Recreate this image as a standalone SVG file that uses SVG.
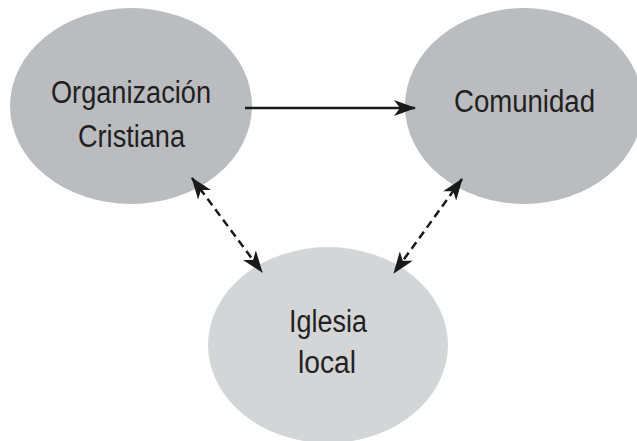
<svg xmlns="http://www.w3.org/2000/svg" width="637" height="441" viewBox="0 0 637 441">
  <style>
    .lbl { font-family: "Liberation Sans", Arial, sans-serif; font-size: 31px; fill: #231f20; text-anchor: middle; }
    .n1 { fill: #bbbcbf; }
    .n2 { fill: #d4d5d7; }
    .conn { stroke: #1a1a1a; stroke-width: 2.5; fill: none; }
    .dash { stroke-dasharray: 8 5; }
  </style>
  <defs>
    <marker id="ah" markerUnits="userSpaceOnUse" markerWidth="22" markerHeight="16" refX="21" refY="8" orient="auto-start-reverse" viewBox="0 0 22 16">
      <path d="M0,0 L22,8 L0,16 L6,8 z" fill="#1a1a1a"/>
    </marker>
  </defs>
  <rect width="637" height="441" fill="#ffffff"/>
  <g id="node-organizacion">
    <ellipse class="n1" cx="131" cy="106" rx="121" ry="98"/>
    <text class="lbl" x="131" y="103" textLength="160" lengthAdjust="spacingAndGlyphs">Organización</text>
    <text class="lbl" x="131.5" y="147" textLength="107" lengthAdjust="spacingAndGlyphs">Cristiana</text>
  </g>
  <g id="node-comunidad">
    <ellipse class="n1" cx="524" cy="106" rx="119" ry="98"/>
    <text class="lbl" x="524.5" y="112" textLength="141" lengthAdjust="spacingAndGlyphs">Comunidad</text>
  </g>
  <g id="node-iglesia">
    <ellipse class="n2" cx="328" cy="345" rx="120" ry="98"/>
    <text class="lbl" x="328" y="332" textLength="78" lengthAdjust="spacingAndGlyphs">Iglesia</text>
    <text class="lbl" x="327" y="373" textLength="58" lengthAdjust="spacingAndGlyphs">local</text>
  </g>
  <g id="connectors">
    <line class="conn" x1="245" y1="108" x2="415" y2="108" marker-end="url(#ah)"/>
    <line class="conn dash" x1="192" y1="178" x2="262" y2="272" marker-start="url(#ah)" marker-end="url(#ah)"/>
    <line class="conn dash" x1="462" y1="179" x2="394" y2="273" marker-start="url(#ah)" marker-end="url(#ah)"/>
  </g>
</svg>
